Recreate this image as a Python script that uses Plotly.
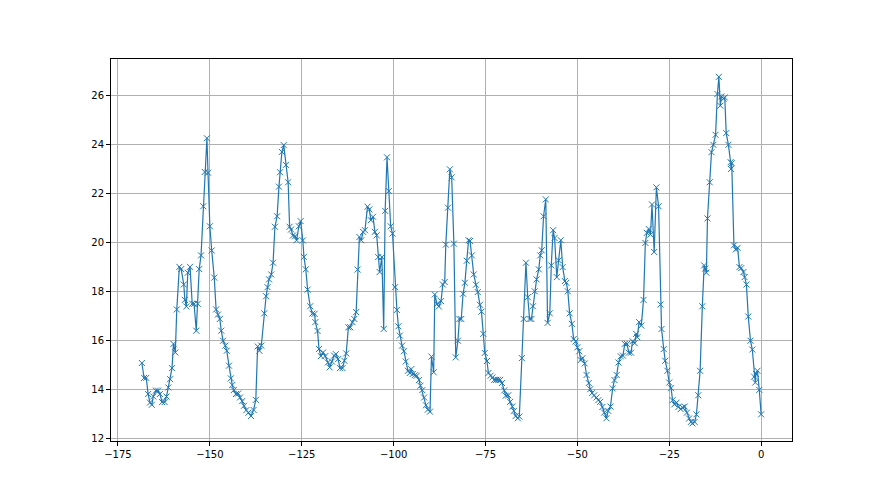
import plotly.graph_objects as go

x_vals = [
    -168.5, -167.9, -167.3, -166.8, -166.3, -165.8, -165.4, -164.7, -164.1, -163.6,
    -163.0, -162.3, -161.8, -161.3, -160.8, -160.3, -159.9, -159.4, -159.0, -158.3,
    -157.8, -157.1, -156.8, -156.4, -156.0, -155.4, -154.8, -154.3, -153.7, -153.3,
    -152.9, -152.4, -151.8, -151.4, -150.8, -150.5, -150.0, -149.5, -148.8, -148.3,
    -147.8, -147.3, -146.9, -146.4, -145.8, -145.4, -144.8, -144.3, -143.9, -143.5,
    -142.9, -142.3, -141.8, -141.2, -140.7, -140.1, -139.5, -138.8, -138.1, -137.5,
    -137.0, -136.5, -136.0, -135.2, -134.7, -134.3, -133.9, -133.3, -132.8, -132.3,
    -131.7, -131.2, -130.9, -130.4, -129.9, -129.3, -128.7, -128.3, -127.9, -127.4,
    -126.8, -126.4, -125.8, -125.3, -124.7, -124.4, -123.9, -123.4, -122.7, -122.1,
    -121.5, -121.3, -120.7, -120.3, -119.8, -119.2, -118.6, -117.9, -117.4, -116.8,
    -116.2, -115.7, -115.1, -114.6, -113.9, -113.4, -112.9, -112.3, -111.8, -111.2,
    -110.7, -110.2, -109.8, -109.3, -108.8, -108.3, -107.8, -107.1, -106.6, -106.2,
    -105.6, -105.1, -104.6, -104.2, -103.8, -103.2, -102.7, -102.3, -101.8, -101.3,
    -100.8, -100.3, -99.6, -99.1, -98.7, -98.3, -97.7, -97.2, -96.7, -96.1,
    -95.6, -95.2, -94.8, -94.2, -93.7, -93.1, -92.7, -92.2, -91.7, -91.2,
    -90.7, -90.1, -89.7, -89.1, -88.8, -88.2, -87.7, -87.1, -86.6, -86.1,
    -85.8, -85.2, -84.7, -84.2, -83.6, -83.1, -82.5, -82.1, -81.6, -81.1,
    -80.6, -80.1, -79.6, -79.2, -78.7, -78.2, -77.6, -77.1, -76.5, -76.1,
    -75.6, -75.2, -74.6, -74.2, -73.6, -73.1, -72.6, -72.1, -71.6, -71.0,
    -70.5, -69.9, -69.5, -68.8, -68.3, -67.7, -67.3, -66.8, -66.2, -65.8,
    -65.1, -64.6, -64.0, -63.5, -63.0, -62.5, -62.1, -61.6, -61.1, -60.5,
    -60.1, -59.7, -59.2, -58.6, -58.1, -57.5, -57.1, -56.6, -56.2, -55.6,
    -55.1, -54.5, -54.0, -53.4, -53.0, -52.6, -52.1, -51.5, -51.0, -50.5,
    -50.0, -49.5, -49.1, -48.6, -48.0, -47.5, -46.9, -46.5, -46.0, -45.4,
    -44.8, -44.3, -43.8, -43.2, -42.7, -42.1, -41.6, -41.0, -40.4, -39.9,
    -39.3, -38.8, -38.2, -37.6, -37.1, -36.5, -36.0, -35.4, -35.0, -34.4,
    -34.0, -33.7, -33.2, -32.6, -32.0, -31.5, -31.1, -30.6, -30.1, -29.7,
    -29.1, -28.5, -27.9, -27.4, -27.1, -26.5, -26.1, -25.5, -25.0, -24.5,
    -24.1, -23.6, -23.0, -22.5, -21.9, -21.4, -20.8, -20.2, -19.6, -19.1,
    -18.7, -18.1, -17.6, -17.1, -16.6, -16.0, -15.5, -15.2, -14.9, -14.6,
    -14.0, -13.5, -13.0, -12.4, -11.9, -11.5, -11.1, -10.8, -10.2, -9.9,
    -9.5, -8.9, -8.3, -8.2, -8.0, -7.4, -6.9, -6.4, -5.9, -5.4,
    -4.8, -4.5, -4.0, -3.5, -2.9, -2.4, -1.9, -1.6, -1.4, -1.0,
    -0.5, 0.0,
]

y_vals = [
    15.07, 14.46, 14.46, 13.80, 13.45, 13.36, 13.70, 13.94, 13.94, 13.80,
    13.47, 13.47, 13.70, 14.07, 14.41, 14.86, 15.85, 15.50, 17.26, 19.00,
    18.91, 18.28, 17.65, 17.38, 18.76, 19.00, 17.49, 17.49, 16.39, 17.49,
    18.91, 19.47, 21.48, 22.88, 24.26, 22.85, 20.66, 19.67, 18.56, 17.26,
    17.05, 16.87, 16.39, 15.98, 15.78, 15.57, 14.96, 14.44, 14.17, 13.96,
    13.80, 13.82, 13.66, 13.51, 13.32, 13.14, 13.04, 12.90, 13.15, 13.56,
    15.75, 15.57, 15.78, 17.10, 17.80, 18.17, 18.49, 18.69, 19.17, 20.64,
    21.07, 22.28, 22.87, 23.70, 23.98, 23.17, 22.46, 20.64, 20.53, 20.28,
    20.25, 20.09, 20.66, 20.87, 20.08, 19.41, 18.90, 18.07, 17.39, 17.09,
    17.08, 16.74, 16.38, 15.64, 15.35, 15.50, 15.35, 15.09, 14.89, 15.13,
    15.37, 15.43, 15.23, 14.86, 14.86, 15.16, 15.46, 16.53, 16.53, 16.74,
    16.87, 17.15, 18.89, 20.22, 20.09, 20.43, 20.50, 21.46, 21.35, 20.91,
    21.05, 20.43, 20.29, 19.40, 18.79, 19.40, 16.46, 21.29, 23.48, 22.10,
    20.66, 20.36, 18.17, 17.24, 16.57, 16.19, 15.78, 15.55, 15.13, 14.75,
    14.66, 14.82, 14.62, 14.57, 14.55, 14.37, 14.14, 13.96, 13.66, 13.34,
    13.16, 13.08, 15.33, 14.69, 17.87, 17.49, 17.38, 17.60, 18.28, 18.38,
    19.91, 21.42, 22.99, 22.66, 19.95, 15.30, 15.98, 16.87, 16.87, 17.90,
    18.35, 19.25, 20.09, 20.06, 19.47, 18.69, 18.27, 17.97, 17.45, 17.17,
    16.26, 15.48, 15.15, 14.66, 14.55, 14.48, 14.38, 14.38, 14.38, 14.38,
    14.25, 13.95, 13.73, 13.75, 13.48, 13.29, 13.11, 12.90, 12.81, 12.88,
    15.27, 16.87, 19.17, 17.76, 16.87, 16.87, 17.39, 18.00, 18.49, 18.90,
    19.47, 19.68, 21.07, 21.76, 16.71, 17.10, 19.06, 20.50, 20.18, 18.58,
    19.27, 20.09, 18.99, 18.42, 18.35, 18.00, 17.10, 16.67, 16.05, 15.95,
    15.71, 15.55, 15.19, 15.27, 15.05, 14.58, 14.25, 14.00, 13.84, 13.75,
    13.66, 13.55, 13.48, 13.27, 13.04, 12.81, 13.11, 13.29, 14.03, 14.37,
    14.58, 15.09, 15.34, 15.37, 15.85, 15.85, 15.49, 15.49, 15.96, 15.88,
    16.26, 16.12, 16.74, 16.60, 17.65, 19.98, 20.39, 20.55, 20.32, 21.55,
    19.61, 22.25, 21.48, 17.46, 16.46, 15.64, 15.16, 14.75, 14.27, 14.04,
    13.55, 13.38, 13.45, 13.27, 13.18, 13.25, 13.29, 13.04, 12.80, 12.66,
    12.60, 12.66, 12.97, 13.75, 14.75, 17.39, 19.06, 18.93, 18.76, 20.98,
    22.46, 23.69, 23.99, 24.40, 26.07, 26.77, 25.59, 25.97, 25.88, 25.93,
    24.47, 23.99, 23.28, 23.00, 23.24, 19.88, 19.71, 19.78, 18.99, 18.95,
    18.79, 18.58, 18.28, 16.97, 15.98, 15.62, 14.51, 14.27, 14.62, 14.75,
    13.97, 12.97,
]

x_ticks = [-175, -150, -125, -100, -75, -50, -25, 0]
y_ticks = [12, 14, 16, 18, 20, 22, 24, 26]

fig = go.Figure()
fig.add_trace(go.Scatter(
    x=x_vals, y=y_vals, mode="lines+markers",
    line=dict(color="#1f77b4", width=1.2),
    marker=dict(symbol="x-thin", size=6, color="#1f77b4",
                line=dict(color="#1f77b4", width=1)),
    showlegend=False,
))

axis_common = dict(
    showline=True, linecolor="black", linewidth=1, mirror=True,
    ticks="outside", ticklen=4, tickcolor="black", tickwidth=1,
    showgrid=True, gridcolor="#b0b0b0", gridwidth=0.8,
    zeroline=False,
    tickfont=dict(family="DejaVu Sans", size=10, color="black"),
)

fig.update_layout(
    width=880, height=495,
    margin=dict(l=103, r=96, t=51, b=62),
    paper_bgcolor="white", plot_bgcolor="white",
    xaxis=dict(range=[-176.9, 8.4], tickvals=x_ticks,
               ticktext=[f"\u2212{abs(v)}" if v < 0 else str(v) for v in x_ticks],
               **axis_common),
    yaxis=dict(range=[11.88, 27.5], tickvals=y_ticks,
               ticktext=[str(v) for v in y_ticks], **axis_common),
)

fig.write_html("out.html")
